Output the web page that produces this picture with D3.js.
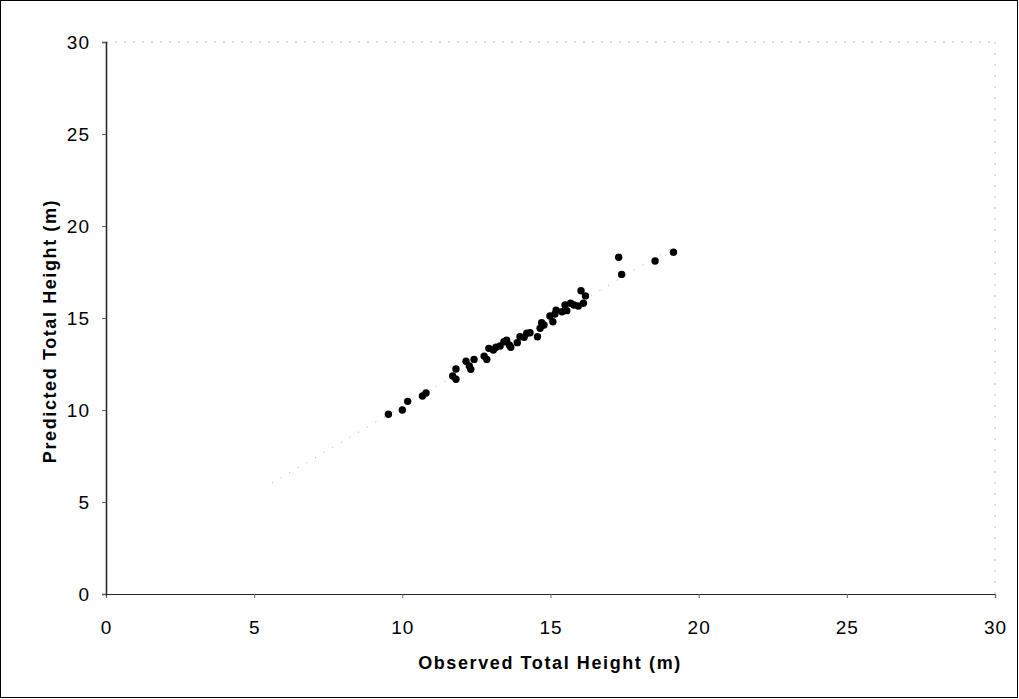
<!DOCTYPE html>
<html>
<head>
<meta charset="utf-8">
<script src="https://cdn.jsdelivr.net/npm/d3@7"></script>
<style>
  html, body { margin: 0; padding: 0; background: #fff; }
  svg { display: block; }
  text { font-family: "Liberation Sans", Arial, sans-serif; fill: #000; }
</style>
</head>
<body>
<svg id="chart" width="1019" height="699"></svg>
<script>
const xTicks = [0, 5, 10, 15, 20, 25, 30];
const yTicks = [0, 5, 10, 15, 20, 25, 30];
const observed = [9.53, 10.0, 10.18, 10.68, 10.8, 11.70, 11.81, 11.81, 12.15, 12.26, 12.31, 12.42, 12.76, 12.85, 12.92, 13.07, 13.16, 13.30, 13.43, 13.52, 13.61, 13.66, 13.88, 13.97, 14.11, 14.20, 14.31, 14.56, 14.65, 14.70, 14.78, 14.98, 15.08, 15.15, 15.19, 15.39, 15.49, 15.55, 15.68, 15.79, 15.94, 16.11, 16.18, 16.03, 17.30, 17.40, 18.53, 19.15];
const predicted = [9.77, 10.0, 10.47, 10.76, 10.92, 11.85, 11.67, 12.23, 12.65, 12.39, 12.21, 12.75, 12.93, 12.75, 13.35, 13.26, 13.41, 13.48, 13.71, 13.80, 13.53, 13.41, 13.66, 13.98, 13.95, 14.17, 14.20, 13.98, 14.44, 14.74, 14.62, 15.11, 14.80, 15.22, 15.43, 15.34, 15.71, 15.40, 15.80, 15.71, 15.65, 15.80, 16.20, 16.48, 18.30, 17.37, 18.10, 18.57];
const trendX = [5.6, 19.2];
const trendY = [6.03, 18.9];

const svg = d3.select("#chart");
const mLeft = 106, mRight = 995, mTop = 42, mBottom = 594;

const x = d3.scaleLinear().domain([0, 30]).range([mLeft, mRight]);
const y = d3.scaleLinear().domain([0, 30]).range([mBottom, mTop]);

// outer frame
svg.append("rect").attr("x", 0.5).attr("y", 0.5).attr("width", 1017).attr("height", 697)
  .attr("fill", "none").attr("stroke", "#000").attr("stroke-width", 1);

// plot area top/right faint dotted border
svg.append("line").attr("x1", mLeft).attr("x2", mRight).attr("y1", mTop).attr("y2", mTop)
  .attr("stroke", "#bbb").attr("stroke-width", 1).attr("stroke-dasharray", "2,7");
svg.append("line").attr("x1", mRight).attr("x2", mRight).attr("y1", mTop).attr("y2", mBottom)
  .attr("stroke", "#bbb").attr("stroke-width", 1).attr("stroke-dasharray", "2,9");

// axes
const xAxis = d3.axisBottom(x).tickValues(xTicks).tickSize(4).tickPadding(23);
const yAxis = d3.axisLeft(y).tickValues(yTicks).tickSize(4).tickPadding(12);

const gx = svg.append("g").attr("transform", `translate(0,${mBottom})`).call(xAxis);
gx.select(".domain").attr("stroke", "#222").attr("stroke-width", 1.2);
gx.selectAll(".tick line").attr("stroke", "#666");
gx.selectAll(".tick text").attr("font-size", 19).attr("letter-spacing", 1)
  .attr("font-family", "Liberation Sans, Arial, sans-serif");

const gy = svg.append("g").attr("transform", `translate(${mLeft},0)`).call(yAxis);
gy.select(".domain").attr("stroke", "#222").attr("stroke-width", 1.5);
gy.selectAll(".tick line").attr("stroke", "#666");
gy.selectAll(".tick text").attr("font-size", 19).attr("letter-spacing", 1)
  .attr("font-family", "Liberation Sans, Arial, sans-serif");

// trend line (faint dotted)
const line = d3.line().x(d => x(d[0])).y(d => y(d[1]));
svg.append("path").datum(d3.zip(trendX, trendY)).attr("d", line)
  .attr("fill", "none").attr("stroke", "#aaa").attr("stroke-width", 1).attr("stroke-dasharray", "1,9");

// points
svg.append("g").selectAll("circle").data(d3.zip(observed, predicted)).join("circle")
  .attr("cx", d => x(d[0])).attr("cy", d => y(d[1])).attr("r", 3.7).attr("fill", "#000");

// axis titles
svg.append("text").attr("x", 550).attr("y", 669).attr("text-anchor", "middle")
  .attr("font-size", 18).attr("font-weight", "bold").attr("letter-spacing", 1.6)
  .text("Observed Total Height (m)");
svg.append("text").attr("transform", "translate(56,331) rotate(-90)")
  .attr("text-anchor", "middle").attr("font-size", 18).attr("font-weight", "bold")
  .attr("letter-spacing", 1.6)
  .text("Predicted Total Height (m)");
</script>
</body>
</html>
